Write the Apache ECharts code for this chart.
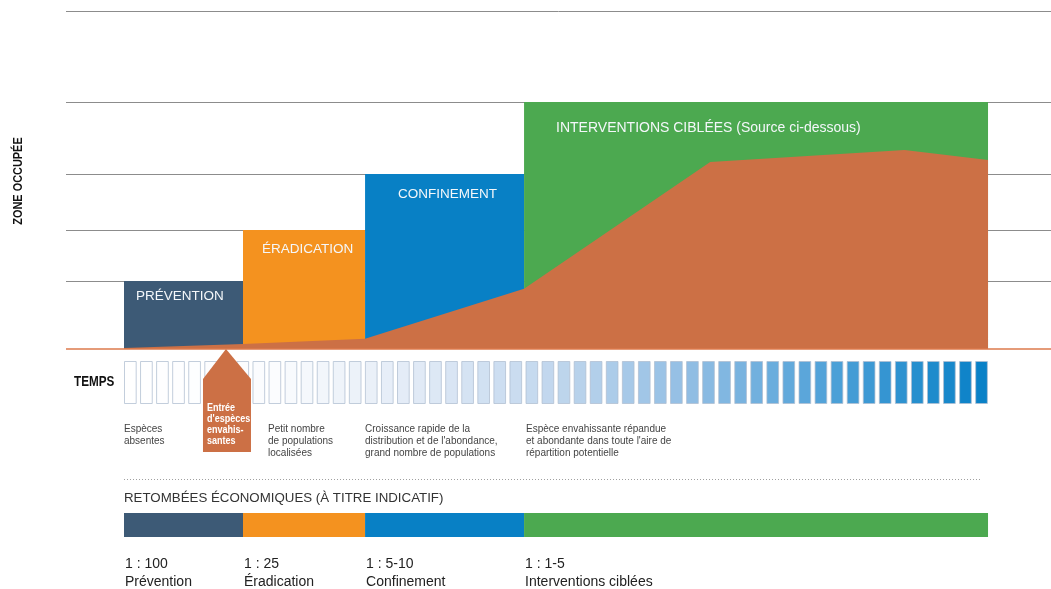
<!DOCTYPE html>
<html>
<head>
<meta charset="utf-8">
<script src="https://cdn.jsdelivr.net/npm/echarts@6/dist/echarts.min.js"></script>
<style>
html, body { margin: 0; padding: 0; background: #ffffff; }
#chart { width: 1051px; height: 589px; }
</style>
</head>
<body>
<div id="chart"></div>
<script>
// ---- Management phases along the time scale (time in interval units) ----
const phaseNames = ['PRÉVENTION', 'ÉRADICATION', 'CONFINEMENT', 'INTERVENTIONS CIBLÉES (Source ci-dessous)'];
const phaseStart = [0, 7.41, 15.01, 24.91];
const phaseEnd = [7.41, 15.01, 24.91, 53.8];
const phaseHeight = [20.1, 35.2, 51.8, 73.1];   // zone occupée (% of scale)

// ---- Area occupied by the invasive species over time ----
const spreadTime = [0, 7.41, 15.01, 24.91, 36.5, 48.6, 53.8];
const spreadArea = [0.3, 1.5, 3.0, 17.8, 55.3, 58.9, 55.9];

// ---- Reference levels of the occupied-area scale ----
const gridLevels = [20.1, 35.2, 51.8, 73.1, 100];

// ---- Time intervals ----
const timeStepCount = 54;
const entryTime = 6.35;
const entryLabel = ['Entrée', "d'espèces", 'envahis-', 'santes'];

// ---- Stage descriptions under the time scale ----
const noteTime = [0, 8.97, 15.01, 25.03];
const noteLines = [
  ['Espèces', 'absentes'],
  ['Petit nombre', 'de populations', 'localisées'],
  ['Croissance rapide de la', "distribution et de l'abondance,", 'grand nombre de populations'],
  ['Espèce envahissante répandue', "et abondante dans toute l'aire de", 'répartition potentielle']
];

// ---- Economic return of each phase ----
const ecoRatio = ['1 : 100', '1 : 25', '1 : 5-10', '1 : 1-5'];
const ecoNames = ['Prévention', 'Éradication', 'Confinement', 'Interventions ciblées'];

// ---- Styling ----
const phaseColors = ['#3d5a76', '#f4921f', '#0880c5', '#4ca950'];
const phaseLabelOffset = [[12, 15], [19, 19], [33, 20], [32, 26]];
const phaseLabelSize = [13.5, 13.5, 13.5, 14];
const spreadColor = '#cc7045';
const baseFont = '"Liberation Sans", Arial, sans-serif';

// horizontal mapping: time 0 at x=124, 16.06 px per interval, plot spans x=66..1051
const UNIT = 16.06;
const xMin = -(124 - 66) / UNIT;
const xMax = (1051 - 124) / UNIT;

const chart = echarts.init(document.getElementById('chart'), null, { renderer: 'canvas' });

function xAxisDef(gridIndex) {
  return { type: 'value', gridIndex, min: xMin, max: xMax, show: false };
}
function yAxisDef(gridIndex, max) {
  return { type: 'value', gridIndex, min: 0, max, show: false };
}

const phaseData = phaseNames.map((n, i) => [phaseStart[i], phaseEnd[i], phaseHeight[i]]);

const option = {
  animation: false,
  backgroundColor: '#ffffff',
  grid: [
    { left: 66, right: 0, top: 11, height: 338 },
    { left: 66, right: 0, top: 361, height: 43 },
    { left: 66, right: 0, top: 513, height: 24 }
  ],
  xAxis: [xAxisDef(0), xAxisDef(1), xAxisDef(2)],
  yAxis: [yAxisDef(0, 100), yAxisDef(1, 1), yAxisDef(2, 1)],
  visualMap: {
    show: false,
    type: 'continuous',
    seriesIndex: 4,
    dimension: 0,
    min: 0,
    max: timeStepCount - 1,
    inRange: { color: ['#ffffff', '#fbfcfe', '#e2ebf6', '#c0d6ed', '#8ebce3', '#4a9fd7', '#0981c7'] }
  },
  graphic: [
    {
      // condensed bold axis title, read bottom-to-top
      type: 'text', x: 18, y: 181, rotation: Math.PI / 2, scaleX: 0.84, z: 20,
      style: { text: 'ZONE OCCUPÉE', fill: '#111', fontFamily: baseFont, fontWeight: 'bold', fontSize: 13, align: 'center', verticalAlign: 'middle' }
    },
    {
      type: 'text', x: 74, y: 382, scaleX: 0.78, z: 20,
      style: { text: 'TEMPS', fill: '#111', fontFamily: baseFont, fontWeight: 'bold', fontSize: 15, align: 'left', verticalAlign: 'middle' }
    },
    {
      type: 'line', z: 20,
      shape: { x1: 124, y1: 479.5, x2: 982, y2: 479.5 },
      style: { stroke: '#a0a0a0', lineWidth: 1, lineDash: [1, 2] }
    },
    {
      type: 'text', x: 124, y: 498, z: 20,
      style: { text: 'RETOMBÉES ÉCONOMIQUES (À TITRE INDICATIF)', fill: '#333', fontFamily: baseFont, fontSize: 13.3, align: 'left', verticalAlign: 'middle' }
    }
  ],
  series: [
    // 0: reference lines of the occupied-area scale (kept beneath the blocks)
    {
      type: 'line', xAxisIndex: 0, yAxisIndex: 0, data: [], z: 1, silent: true,
      markLine: {
        z: 1,
        silent: true, symbol: ['none', 'none'], label: { show: false },
        lineStyle: { color: '#8c8c8c', width: 1, type: 'solid' },
        data: gridLevels.map(v => ({ yAxis: v }))
      }
    },
    // 1: management phase blocks
    {
      type: 'custom', xAxisIndex: 0, yAxisIndex: 0, z: 2,
      data: phaseData,
      encode: { x: [0, 1], y: 2 },
      renderItem: function (params, api) {
        const i = params.dataIndex;
        const p0 = api.coord([api.value(0), api.value(2)]);
        const p1 = api.coord([api.value(1), 0]);
        const off = phaseLabelOffset[i];
        return {
          type: 'group',
          children: [
            { type: 'rect', shape: { x: p0[0], y: p0[1], width: p1[0] - p0[0], height: p1[1] - p0[1] }, style: { fill: phaseColors[i] } },
            { type: 'text', z2: 5, style: { text: phaseNames[i], x: p0[0] + off[0], y: p0[1] + off[1], fill: '#f4f7fa', fontFamily: baseFont, fontSize: phaseLabelSize[i], align: 'left', verticalAlign: 'middle' } }
          ]
        };
      }
    },
    // 2: area occupied by the invasive species
    {
      type: 'line', xAxisIndex: 0, yAxisIndex: 0, z: 3,
      data: spreadTime.map((t, i) => [t, spreadArea[i]]),
      symbol: 'none', smooth: false,
      lineStyle: { width: 0, color: spreadColor },
      areaStyle: { color: spreadColor, opacity: 1 }
    },
    // 3: baseline
    {
      type: 'line', xAxisIndex: 0, yAxisIndex: 0, data: [], z: 4, silent: true,
      markLine: {
        z: 4,
        silent: true, symbol: ['none', 'none'], label: { show: false },
        lineStyle: { color: '#dc7a4c', width: 1.5, type: 'solid' },
        data: [{ yAxis: 0 }]
      }
    },
    // 4: time intervals
    {
      type: 'custom', xAxisIndex: 1, yAxisIndex: 1, z: 2,
      data: Array.from({ length: timeStepCount }, (_, i) => [i]),
      encode: { x: 0 },
      renderItem: function (params, api) {
        const t = api.value(0);
        const p0 = api.coord([t, 1]);
        const p1 = api.coord([t + 0.79, 0]);
        return {
          type: 'rect',
          shape: { x: p0[0] + 0.5, y: p0[1] + 0.5, width: p1[0] - p0[0] - 1, height: p1[1] - p0[1] - 1 },
          style: { fill: api.visual('color'), stroke: 'rgba(175,190,208,0.75)', lineWidth: 1 }
        };
      }
    },
    // 5: entry of invasive species marker
    {
      type: 'custom', xAxisIndex: 0, yAxisIndex: 0, z: 10, clip: false,
      data: [[entryTime, 0]],
      renderItem: function (params, api) {
        const tip = api.coord([api.value(0), 0]);
        const tx = tip[0], ty = tip[1];
        const children = [{
          type: 'polygon',
          shape: { points: [[tx, ty], [tx + 25, ty + 30], [tx + 25, ty + 103], [tx - 23, ty + 103], [tx - 23, ty + 30]] },
          style: { fill: spreadColor }
        }];
        entryLabel.forEach((s, k) => {
          children.push({
            type: 'text', z2: 5, x: tx - 19, y: ty + 59 + k * 11, scaleX: 0.86,
            style: { text: s, x: 0, y: 0, fill: '#ffffff', fontFamily: baseFont, fontWeight: 'bold', fontSize: 10.5, align: 'left', verticalAlign: 'middle' }
          });
        });
        return { type: 'group', children };
      }
    },
    // 6: stage descriptions
    {
      type: 'custom', xAxisIndex: 1, yAxisIndex: 1, z: 5, clip: false,
      data: noteTime.map(t => [t]),
      encode: { x: 0 },
      renderItem: function (params, api) {
        const p = api.coord([api.value(0), 0]);
        return {
          type: 'text',
          style: { text: noteLines[params.dataIndex].join('\n'), x: p[0], y: p[1] + 19, fill: '#444', fontFamily: baseFont, fontSize: 10, lineHeight: 12, align: 'left', verticalAlign: 'top' }
        };
      }
    },
    // 7: economic return bar
    {
      type: 'custom', xAxisIndex: 2, yAxisIndex: 2, z: 2, clip: false,
      data: phaseStart.map((s, i) => [s, phaseEnd[i]]),
      encode: { x: [0, 1] },
      renderItem: function (params, api) {
        const i = params.dataIndex;
        const p0 = api.coord([api.value(0), 1]);
        const p1 = api.coord([api.value(1), 0]);
        return {
          type: 'group',
          children: [
            { type: 'rect', shape: { x: p0[0], y: p0[1], width: p1[0] - p0[0], height: p1[1] - p0[1] }, style: { fill: phaseColors[i] } },
            { type: 'text', style: { text: ecoRatio[i], x: p0[0] + 1, y: p1[1] + 27, fill: '#222', fontFamily: baseFont, fontSize: 14, align: 'left', verticalAlign: 'middle' } },
            { type: 'text', style: { text: ecoNames[i], x: p0[0] + 1, y: p1[1] + 45, fill: '#222', fontFamily: baseFont, fontSize: 14, align: 'left', verticalAlign: 'middle' } }
          ]
        };
      }
    }
  ]
};

chart.setOption(option);
</script>
</body>
</html>
